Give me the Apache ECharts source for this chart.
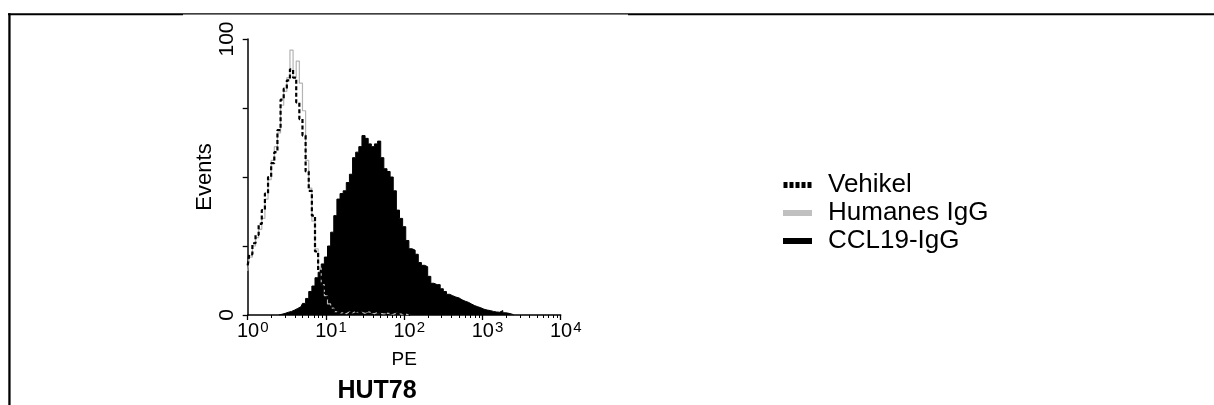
<!DOCTYPE html>
<html>
<head>
<meta charset="utf-8">
<script src="https://cdn.jsdelivr.net/npm/echarts@6/dist/echarts.min.js"></script>
<style>
html,body{margin:0;padding:0;background:#fff;}
#chart{width:1214px;height:405px;}
</style>
</head>
<body>
<div id="chart"></div>
<script>
// channel positions as log10(PE)
const channelExp = [0.00,0.04,0.08,0.12,0.16,0.20,0.24,0.28,0.32,0.36,0.40,0.44,0.48,0.52,0.56,0.60,0.64,0.68,0.72,0.76,0.80,0.84,0.88,0.92,0.96,1.00,1.04,1.08,1.12,1.16,1.20,1.24,1.28,1.32,1.36,1.40,1.44,1.48,1.52,1.56,1.60,1.64,1.68,1.72,1.76,1.80,1.84,1.88,1.92,1.96,2.00,2.04,2.08,2.12,2.16,2.20,2.24,2.28,2.32,2.36,2.40,2.44,2.48,2.52,2.56,2.60,2.64,2.68,2.72,2.76,2.80,2.84,2.88,2.92,2.96,3.00,3.04,3.08,3.12,3.16,3.20,3.24,3.28,3.32,3.36,3.40];

const vehikel = [18,22,26,29,33,38,44,50,55,59,67,78,82,85,89,86,77,71,65,52,45,36,23,16,11,8,5,2,1,0.8,0.5,1.2,0.6,1.0,1.4,1.8,0.8,1.2,1.5,0.9,1.2,1.0,0.7,1.1,0.8,0.6,0.9,0.5,0.4,0.6,0.3,0.2,0];

const humanesIgG = [16,21,25,28,31,35,42,49,56,61,66,76,81,86,96,86,92,84,74,56,46,34,24,17,11,7,4,2.5,1.2,0.6,0.9,0.5,1.1,0.7,1.3,0.8,1.0,0.6,1.2,0.8,0.5,0.9,0.6,0.4,0.7,0.5,0.3,0.6,0.4,0.2,0.3,0.1,0];

const ccl19IgG = [null,null,null,null,null,null,null,null,null,null,
  0,0.3,0.6,1.0,1.3,1.8,2.4,3.0,4.2,6.0,
  8.5,10.5,13.5,15.5,18.5,21,25,30,36,42,
  44,45,48,51,57,59,61,65,64,62,
  61,62,63,57,53,52,50,45,38,35,
  32,27,24,23.5,22,19,18,17.5,14,11.5,
  11,11,9.5,8.5,7.5,7,6.5,6.2,5.5,5,
  4.6,4,3.4,3,2.6,2.1,1.8,1.6,1.3,1.1,
  1.0,1.6,0.8,0.6,0.3,0];

const seriesNames = ['Vehikel','Humanes IgG','CCL19-IgG'];
const yTickLabels = [0, 100];
const xAxisName = 'PE';
const yAxisName = 'Events';
const chartTitle = 'HUT78';

function toPairs(arr){
  const out = [];
  arr.forEach((c,i)=>{ if (c !== null && i < channelExp.length) out.push([Math.pow(10, channelExp[i]), c]); });
  return out;
}

const FONT = "'Liberation Sans', Arial, sans-serif";
const chart = echarts.init(document.getElementById('chart'), null, {renderer:'canvas'});
chart.setOption({
  animation: false,
  backgroundColor: '#fff',
  title: {
    text: chartTitle,
    left: 377, top: 379, textAlign: 'center', padding: 0,
    textStyle: {fontFamily: FONT, fontSize: 25, fontWeight: 'bold', color: '#000', lineHeight: 25}
  },
  grid: {left: 247.7, right: 653.3, top: 39, bottom: 90, containLabel: false},
  xAxis: {
    type: 'log', logBase: 10, min: 1, max: 10000,
    name: xAxisName, nameLocation: 'middle', nameGap: 35,
    nameTextStyle: {fontFamily: FONT, fontSize: 19, color: '#000'},
    axisLine: {lineStyle: {color: '#000', width: 1.5}},
    axisTick: {show: true, inside: false, length: 5, lineStyle: {color: '#000', width: 1.3}},
    minorTick: {show: true, splitNumber: 9, length: 3, lineStyle: {color: '#000', width: 1}},
    splitLine: {show: false}, minorSplitLine: {show: false},
    axisLabel: {
      margin: 5, fontFamily: FONT, fontSize: 20, color: '#000',
      formatter: function(v){ const e = Math.round(Math.log10(v)); return '{b|10}{s|' + e + '}'; },
      rich: {
        b: {fontFamily: FONT, fontSize: 20, color: '#000', padding: [0,0,0,10]},
        s: {fontFamily: FONT, fontSize: 15, color: '#000', verticalAlign: 'top', padding: [0,0,8,1]}
      }
    }
  },
  yAxis: {
    type: 'value', min: 0, max: 100, interval: 25,
    name: yAxisName, nameLocation: 'middle', nameGap: 29, nameRotate: 90,
    nameTextStyle: {fontFamily: FONT, fontSize: 22, color: '#000'},
    axisLine: {show: true, lineStyle: {color: '#000', width: 1.5}},
    axisTick: {show: true, inside: false, length: 5, lineStyle: {color: '#000', width: 1.3}},
    splitLine: {show: false},
    axisLabel: {
      rotate: 90, margin: 10, fontFamily: FONT, fontSize: 21, color: '#000',
      formatter: function(v){ return yTickLabels.indexOf(v) >= 0 ? String(v) : ''; }
    }
  },
  legend: {
    orient: 'vertical', left: 778, top: 166, itemGap: 0, itemWidth: 29, itemHeight: 6,
    align: 'left',
    textStyle: {fontFamily: FONT, fontSize: 26, color: '#000', lineHeight: 28, padding: [0,0,0,11]},
    data: [
      {name: seriesNames[0], icon: 'path://M0,0h4v6h-4zM6,0h4v6h-4zM12,0h4v6h-4zM18,0h4v6h-4zM24,0h4v6h-4z', itemStyle: {color: '#000'}},
      {name: seriesNames[1], icon: 'rect', itemStyle: {color: '#c0c0c0'}},
      {name: seriesNames[2], icon: 'rect', itemStyle: {color: '#000'}}
    ]
  },
  graphic: [
    {type: 'rect', silent: true, shape: {x: 8, y: 13.3, width: 175, height: 2}, style: {fill: '#000'}},
    {type: 'rect', silent: true, shape: {x: 183, y: 13.3, width: 445, height: 1.2}, style: {fill: '#000'}},
    {type: 'rect', silent: true, shape: {x: 628, y: 13.3, width: 586, height: 2}, style: {fill: '#000'}},
    {type: 'rect', silent: true, shape: {x: 8.3, y: 13.3, width: 2.3, height: 392}, style: {fill: '#000'}}
  ],
  series: [
    {
      name: seriesNames[2], type: 'line', data: toPairs(ccl19IgG), showSymbol: false, step: 'middle',
      itemStyle: {color: '#000'}, lineStyle: {color: '#000', width: 1}, areaStyle: {color: '#000', opacity: 1}, z: 2
    },
    {
      name: seriesNames[1], type: 'line', data: toPairs(humanesIgG), showSymbol: false, step: 'middle',
      itemStyle: {color: '#c0c0c0'}, lineStyle: {color: '#b4b4b4', width: 1.2}, z: 3
    },
    {
      name: seriesNames[0], type: 'line', data: toPairs(vehikel), showSymbol: false, step: 'middle',
      itemStyle: {color: '#000'}, lineStyle: {color: '#000', width: 2.2, type: [4,2.5]}, z: 4
    }
  ]
});
</script>
</body>
</html>
